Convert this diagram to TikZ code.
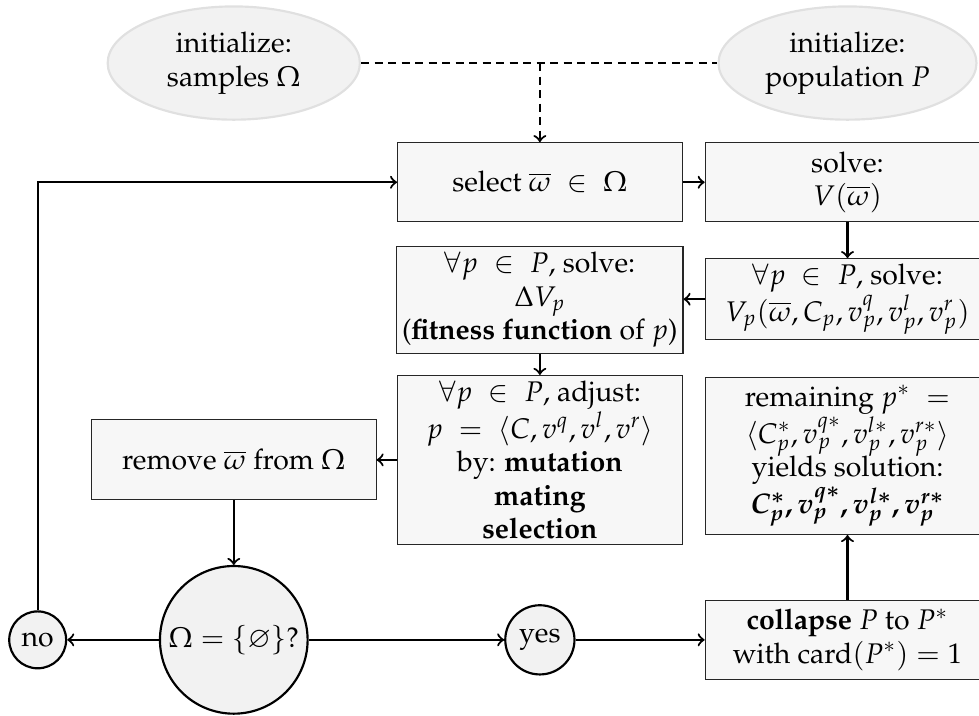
\documentclass[tikz,border=0pt]{standalone}
\usepackage[T1]{fontenc}
\usepackage{amsmath}
\usepackage{amssymb}
\usepackage{mathpazo}
\usepackage{xcolor}
\usepackage{tikz}
\usetikzlibrary{shapes,arrows,positioning,calc}

\begin{document}
\begin{tikzpicture}[
    every node/.style={font=\fontsize{10.5pt}{12.4pt}\selectfont},
    block/.style={rectangle, draw=black!85, fill=black!3, align=center, minimum width=3.7cm, inner sep=2pt},
    init/.style={ellipse, draw=black!12, thick, fill=black!5, align=center, minimum width=3.28cm, minimum height=1.43cm},
    decision/.style={circle, draw, thick, fill=black!5, inner sep=1pt},
    arrow/.style={->, thick},
    dashline/.style={thick, dash pattern=on 3pt off 2pt}
]
    \useasboundingbox (0,0) rectangle (12.73,-9.30);

    % Initialisation
    \node[init] (initS) at (3.04,-0.82) {initialize:\\samples $\Omega$};
    \node[init] (initP) at (11.02,-0.82) {initialize:\\population $P$};

    % Sample selection and evaluation
    \node[block, minimum height=1.03cm] (select) at (7.02,-2.37) {select $\overline{\omega} \;\in\; \Omega$};
    \node[block, minimum height=1.03cm] (solveV) at (11.02,-2.37) {solve:\\$V(\overline{\omega})$};

    % Per individual
    \node[block, minimum height=1.05cm] (solveVp) at (11.02,-3.89) {$\forall p \;\in\; P$, solve:\\$V_p(\overline{\omega}, C_p, v_p^{q}, v_p^{l}, v_p^{r})$};
    \node[block, minimum height=1.40cm] (fitness) at (7.02,-3.90) {$\forall p \;\in\; P$, solve:\\$\Delta V_p$\\(\textbf{fitness function} of $p$)};
    \node[block, minimum height=2.16cm] (adjust) at (7.02,-5.98) {$\forall p \;\in\; P$, adjust:\\$p \;=\; \langle C, v^{q}, v^{l}, v^{r}\rangle$\\by: \textbf{mutation}\\\textbf{mating}\\\textbf{selection}};
    \node[block, minimum height=1.04cm] (remove) at (3.04,-5.98) {remove $\overline{\omega}$ from $\Omega$};

    % Result
    \node[block, minimum height=2.04cm] (remaining) at (11.02,-5.93) {remaining $p^{*} \;=$\\$\langle C_p^{*}, v_p^{q*}, v_p^{l*}, v_p^{r*}\rangle$\\yields solution:\\{\boldmath$C_p^{*}, v_p^{q*}, v_p^{l*}, v_p^{r*}$}};
    \node[block, minimum height=1.03cm] (collapse) at (11.02,-8.32) {\textbf{collapse} $P$ to $P^{*}$\\with card$(P^{*}) = 1$};

    % Termination test
    \node[decision, minimum size=1.92cm] (empty) at (3.04,-8.32) {$\Omega = \{\varnothing\}$?};
    \node[decision, minimum size=0.74cm] (no) at (0.49,-8.32) {no};
    \node[decision, minimum size=0.90cm] (yes) at (7.02,-8.32) {yes};

    % Connections
    \draw[dashline] (initS.east) -- (initP.west);
    \draw[dashline, ->] (select.north |- initS.east) -- (select.north);
    \draw[arrow] (select.east) -- (solveV.west);
    \draw[arrow] (solveV.south) -- (solveVp.north);
    \draw[arrow] (solveVp.west) -- (solveVp.west -| fitness.east);
    \draw[arrow] (fitness.south) -- (adjust.north);
    \draw[arrow] (adjust.west) -- (remove.east);
    \draw[arrow] (remove.south) -- (empty.north);
    \draw[arrow] (empty.west) -- (no.east);
    \draw[arrow] (empty.east) -- (yes.west);
    \draw[arrow] (yes.east) -- (collapse.west);
    \draw[arrow] (collapse.north) -- (remaining.south);
    \draw[arrow] (no.north) |- (select.west);

\end{tikzpicture}
\end{document}
